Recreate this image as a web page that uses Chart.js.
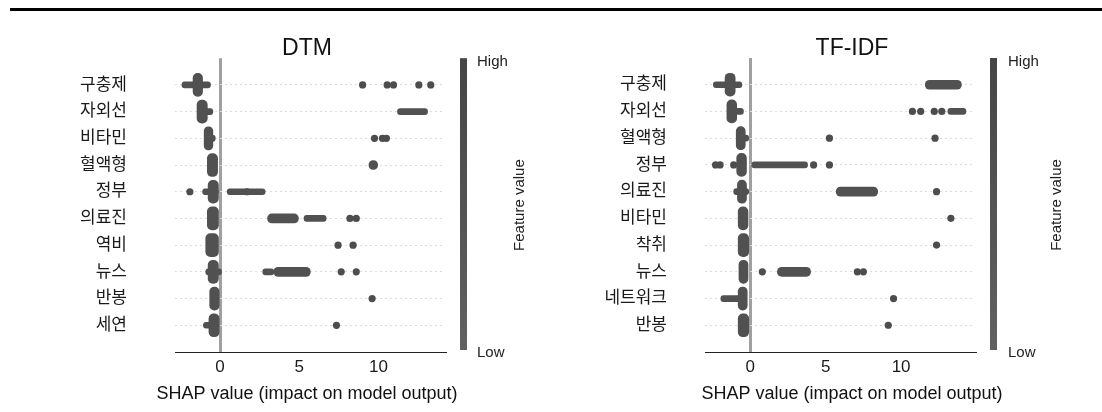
<!DOCTYPE html>
<html lang="ko">
<head>
<meta charset="UTF-8">
<title>SHAP summary: DTM / TF-IDF</title>
<script src="https://cdn.jsdelivr.net/npm/chart.js"></script>
<style>
  body { margin: 0; background: #fff; width: 1102px; height: 412px; position: relative; overflow: hidden; }
  .rule { position: absolute; left: 10px; right: 0; top: 8px; height: 3px; background: #000; }
  .box { position: absolute; top: 0; width: 551px; height: 412px; }
</style>
</head>
<body>
<div class="rule"></div>
<div class="box" style="left:0"><canvas id="dtmChart"></canvas></div>
<div class="box" style="left:551px"><canvas id="tfidfChart"></canvas></div>

<script>
const FONT = '"Liberation Sans", "Noto Sans CJK KR", sans-serif';

// ---- DTM ----
const dtmFeatures = ['구충제', '자외선', '비타민', '혈액형', '정부', '의료진', '역비', '뉴스', '반봉', '세연'];
// dense mass of low feature values near zero, one range per feature
const dtmCore = [[-1.7, -1.1], [-1.45, -0.8], [-1.0, -0.45], [-0.8, -0.15], [-0.75, -0.1],
                 [-0.8, 0.0], [-0.9, 0.0], [-0.75, -0.1], [-0.65, -0.05], [-0.7, -0.05]];
// thin runs of overlapping points
const dtmRuns = [
  ['구충제', -2.4, -0.6], ['자외선', -1.0, -0.45], ['자외선', 11.2, 13.1],
  ['비타민', -0.6, -0.3], ['정부', -1.1, -0.1], ['정부', 0.45, 2.85],
  ['의료진', 5.3, 6.7], ['뉴스', -0.9, 0.1], ['뉴스', 2.7, 3.4], ['세연', -1.05, -0.3]
];
// thicker (stacked) runs
const dtmThick = [['혈액형', 9.4, 9.95], ['의료진', 3.0, 4.95], ['뉴스', 3.4, 5.7]];
// isolated points
const dtmDots = [
  ['구충제', 9.0], ['구충제', 10.55], ['구충제', 10.95], ['구충제', 12.55], ['구충제', 13.3],
  ['비타민', 9.75], ['비타민', 10.25], ['비타민', 10.5],
  ['정부', -1.9], ['정부', 1.7],
  ['의료진', 8.2], ['의료진', 8.6],
  ['역비', 7.45], ['역비', 8.4],
  ['뉴스', 7.65], ['뉴스', 8.6],
  ['반봉', 9.6], ['세연', 7.35]
];

// ---- TF-IDF ----
const tfFeatures = ['구충제', '자외선', '혈액형', '정부', '의료진', '비타민', '착취', '뉴스', '네트워크', '반봉'];
const tfCore = [[-1.67, -1.0], [-1.55, -0.9], [-0.93, -0.33], [-0.9, -0.25], [-0.85, -0.25],
                [-0.8, -0.15], [-0.8, 0.0], [-0.75, -0.15], [-0.8, -0.2], [-0.8, -0.1]];
const tfRuns = [
  ['구충제', -2.45, -0.55], ['자외선', -1.0, -0.45], ['자외선', 13.1, 14.3],
  ['혈액형', -0.5, -0.1], ['정부', 0.0, 3.8], ['의료진', -1.1, -0.1], ['네트워크', -1.95, -0.5]
];
const tfThick = [['구충제', 11.6, 14.0], ['의료진', 5.7, 8.45], ['뉴스', 1.8, 4.0]];
const tfDots = [
  ['자외선', 10.75], ['자외선', 11.3], ['자외선', 12.2], ['자외선', 12.7],
  ['혈액형', 5.25], ['혈액형', 12.25],
  ['정부', -2.3], ['정부', -2.0], ['정부', -1.1], ['정부', 4.2], ['정부', 5.25],
  ['의료진', 12.35], ['비타민', 13.3], ['착취', 12.35],
  ['뉴스', 0.8], ['뉴스', 7.1], ['뉴스', 7.5],
  ['네트워크', 9.5], ['반봉', 9.15]
];

const decoPlugin = {
  id: 'deco',
  afterDraw(chart, args, o) {
    const { ctx, chartArea: a } = chart;
    ctx.save();
    ctx.fillStyle = '#111';
    ctx.textAlign = 'center';
    ctx.textBaseline = 'alphabetic';
    ctx.font = '23px ' + FONT;
    ctx.fillText(o.title, o.centerX, 55);
    ctx.font = '18px ' + FONT;
    ctx.fillText('SHAP value (impact on model output)', o.centerX, 399);

    // colour bar (feature value, high -> low)
    const bx = a.right + 15;
    const g = ctx.createLinearGradient(0, a.top, 0, a.bottom);
    g.addColorStop(0, '#454545');
    g.addColorStop(1, '#616161');
    ctx.fillStyle = g;
    ctx.fillRect(bx, a.top, 7, a.bottom - a.top - 2);

    ctx.fillStyle = '#222';
    ctx.textAlign = 'left';
    ctx.textBaseline = 'middle';
    ctx.font = '15px ' + FONT;
    ctx.fillText('High', bx + o.textGap, a.top + 4);
    ctx.fillText('Low', bx + o.textGap, a.bottom + 1);
    ctx.translate(bx + o.fvGap, (a.top + a.bottom) / 2);
    ctx.rotate(-Math.PI / 2);
    ctx.textAlign = 'center';
    ctx.fillText('Feature value', 0, 0);
    ctx.restore();
  }
};

function makeChart(id, features, core, runs, thick, dots, xMin, xMax, opts) {
  const idx = name => features.indexOf(name);
  const barBase = { type: 'bar', indexAxis: 'y', grouped: false, borderSkipped: false, backgroundColor: '#515151' };
  new Chart(document.getElementById(id), {
    type: 'bar',
    data: {
      datasets: [
        { ...barBase, data: core.map((r, i) => ({ y: i, x: r })), barThickness: 23, borderRadius: 5 },
        { ...barBase, data: thick.map(r => ({ y: idx(r[0]), x: [r[1], r[2]] })), barThickness: 9, borderRadius: 4.5 },
        { ...barBase, data: runs.map(r => ({ y: idx(r[0]), x: [r[1], r[2]] })), barThickness: 6, borderRadius: 3 },
        { type: 'scatter', data: dots.map(d => ({ y: idx(d[0]), x: d[1] })),
          pointRadius: 3.6, pointHoverRadius: 3.6, backgroundColor: '#4d4d4d', borderWidth: 0 }
      ]
    },
    options: {
      responsive: true,
      maintainAspectRatio: false,
      animation: false,
      layout: { padding: { left: 0, right: opts.padRight, top: 58, bottom: 0 } },
      plugins: {
        legend: { display: false },
        tooltip: { enabled: false },
        deco: opts
      },
      scales: {
        x: {
          type: 'linear', min: xMin, max: xMax, offset: false,
          afterFit: s => { s.height = 60; },
          ticks: { stepSize: 5, includeBounds: false, padding: 5, maxRotation: 0,
                   color: '#1a1a1a', font: { size: 17, family: FONT } },
          grid: { offset: false, drawTicks: false, lineWidth: 3,
                  color: c => (c.tick && c.tick.value === 0) ? '#a0a0a0' : 'rgba(0,0,0,0)' },
          border: { display: true, color: '#222', width: 1 }
        },
        y: {
          type: 'linear', min: -1, max: features.length, reverse: true, offset: false,
          afterBuildTicks: s => { s.ticks = features.map((f, i) => ({ value: i })); },
          afterFit: s => { s.width = opts.yWidth; },
          ticks: { autoSkip: false, padding: opts.labelGap, color: '#1a1a1a',
                   font: { size: 17, family: FONT }, callback: v => features[v] },
          grid: { offset: false, drawTicks: false, color: '#dcdcdc', lineWidth: 1 },
          border: { display: false, dash: [2, 3] }
        }
      }
    },
    plugins: [decoPlugin]
  });
}

makeChart('dtmChart', dtmFeatures, dtmCore, dtmRuns, dtmThick, dtmDots, -2.84, 14.2,
  { title: 'DTM', centerX: 307, padRight: 106, yWidth: 175, labelGap: 48, textGap: 17, fvGap: 60 });
makeChart('tfidfChart', tfFeatures, tfCore, tfRuns, tfThick, tfDots, -3.0, 14.9,
  { title: 'TF-IDF', centerX: 301, padRight: 127, yWidth: 154, labelGap: 38, textGap: 18, fvGap: 67 });
</script>
</body>
</html>
